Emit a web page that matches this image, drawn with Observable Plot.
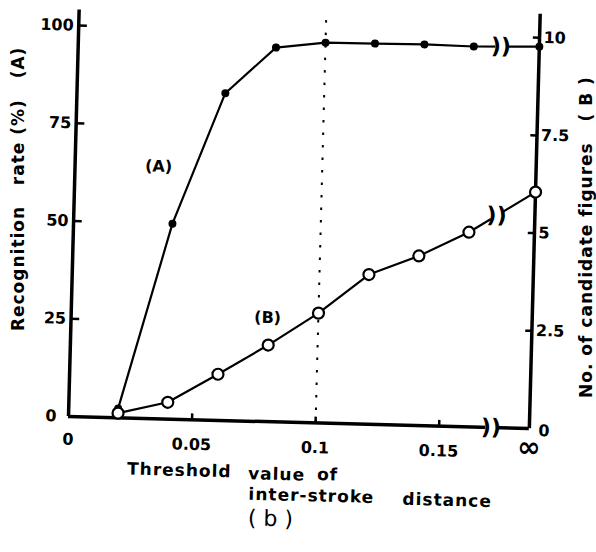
<!DOCTYPE html>
<html>
<head>
<meta charset="utf-8">
<script src="https://cdn.jsdelivr.net/npm/d3@7"></script>
<script src="https://cdn.jsdelivr.net/npm/@observablehq/plot@0.6"></script>
<style>
  html, body { margin: 0; padding: 0; background: #fff; }
  #chart svg { display: block; transform: rotate(1.5deg); transform-origin: 68px 416px; }
</style>
</head>
<body>
<div id="chart"></div>
<script>
// Threshold value of inter-stroke distance (last = ∞)
const thresholds = [0.02, 0.04, 0.06, 0.08, 0.10, 0.12, 0.14, 0.16, Infinity];
// (A) Recognition rate (%)
const rateA = [2.4, 50.0, 83.7, 95.7, 97.3, 97.4, 97.5, 97.3, 97.7];
// (B) No. of candidate figures
const candidatesB = [0.12, 0.43, 1.18, 1.96, 2.81, 3.83, 4.34, 4.98, 6.05];

const xTicks = [0.05, 0.1, 0.15];
const xTickLabels = ["0.05", "0.1", "0.15"];
const leftTicks = [25, 50, 75, 100];
const leftTickLabels = ["25", "50", "75", "100"];
const rightTicks = [2.5, 5, 7.5, 10];
const rightTickLabels = ["2.5", "5", "7.5", "10"];

const titleY = "Recognition\u00a0\u00a0\u00a0rate\u00a0(%)\u00a0\u00a0\u00a0(A)";
const titleY2 = "No.\u00a0of\u00a0candidate\u00a0figures\u00a0\u00a0\u00a0(\u00a0B\u00a0)";

const INF_X = 0.1865;   // where ∞ sits on the broken axis
const BREAK_X = 0.171;  // axis / line break position
const B_SCALE = 10;     // right axis 0–10 drawn on the 0–100 scale

const posX = t => (t === Infinity ? INF_X : t);
const data = thresholds.map((t, i) => ({x: posX(t), a: rateA[i], b: candidatesB[i]}));

// break positions interpolated on each line at BREAK_X
const interp = (key) => {
  const p = data[data.length - 2], q = data[data.length - 1];
  return p[key] + (q[key] - p[key]) * (BREAK_X - p.x) / (q.x - p.x);
};
const breaks = [
  {x: BREAK_X, y: interp("a")},
  {x: BREAK_X, y: interp("b") * B_SCALE},
  {x: BREAK_X, y: 0}
];

const font = "'DejaVu Sans', sans-serif";
const AX = 3.5;
const T = {fontSize: 17, fontWeight: "bold", textAnchor: "middle", lineAnchor: "middle"};

const chart = Plot.plot({
  width: 596,
  height: 552,
  marginLeft: 68,
  marginRight: 67,
  marginTop: 1.5,
  marginBottom: 136,
  x: {domain: [0, INF_X], axis: null},
  y: {domain: [0, 106], axis: null},
  style: {fontFamily: font, background: "white", color: "black"},
  marks: [
    // dotted guide at 0.1
    Plot.ruleX([0.1], {y1: 0, y2: 104, stroke: "black", strokeWidth: 2, strokeDasharray: "2.5,10"}),
    // axes
    Plot.ruleX([0], {y1: 0, y2: 104, stroke: "black", strokeWidth: AX}),
    Plot.ruleX([INF_X], {y1: 0, y2: 106, stroke: "black", strokeWidth: AX}),
    Plot.ruleY([0], {x1: 0, x2: INF_X, stroke: "black", strokeWidth: AX}),
    // ticks (inward)
    Plot.ruleY(leftTicks, {y: d => d, x1: 0, x2: 0.0035, stroke: "black", strokeWidth: 2.5}),
    Plot.ruleY(rightTicks, {y: d => d * B_SCALE, x1: INF_X - 0.0025, x2: INF_X, stroke: "black", strokeWidth: 2.5}),
    Plot.ruleX(xTicks, {x: d => d, y1: 0, y2: 1.5, stroke: "black", strokeWidth: 2.5}),
    // data lines
    Plot.line(data, {x: "x", y: "a", stroke: "black", strokeWidth: 2.2}),
    Plot.line(data, {x: "x", y: d => d.b * B_SCALE, stroke: "black", strokeWidth: 2.2}),
    // breaks
    Plot.dot(breaks, {x: "x", y: "y", symbol: "square", r: 6.5, fill: "white", stroke: "none"}),
    Plot.text(breaks, {x: "x", y: "y", text: () => "))", fontSize: 22, fontWeight: "bold", fill: "black", fontFamily: font}),
    // points
    Plot.dot(data, {x: "x", y: "a", r: 4, fill: "black", stroke: "none"}),
    Plot.dot(data, {x: "x", y: d => d.b * B_SCALE, r: 5.5, fill: "white", stroke: "black", strokeWidth: 2.2}),
    // tick labels
    Plot.text(leftTickLabels, {x: 0, y: (d, i) => leftTicks[i], text: d => d, dx: -5, textAnchor: "end", fontSize: 16, fontWeight: "bold"}),
    Plot.text(["0"], {x: 0, y: 0, text: d => d, dx: -12, textAnchor: "end", fontSize: 16, fontWeight: "bold"}),
    Plot.text(rightTickLabels, {x: INF_X, y: (d, i) => rightTicks[i] * B_SCALE, text: d => d, dx: 4, textAnchor: "start", fontSize: 16, fontWeight: "bold"}),
    Plot.text(["0"], {x: INF_X, y: 0, text: d => d, dx: 9, dy: 2, textAnchor: "start", fontSize: 16, fontWeight: "bold"}),
    Plot.text(xTickLabels, {x: (d, i) => xTicks[i], y: 0, text: d => d, dy: 25, fontSize: 16, fontWeight: "bold"}),
    Plot.text(["0"], {x: 0, y: 0, text: d => d, dy: 23, fontSize: 16, fontWeight: "bold"}),
    Plot.text(["∞"], {x: INF_X, y: 0, text: d => d, dy: 19, fontSize: 28, fontWeight: "bold"}),
    // series labels
    Plot.text(["(A)"], {x: 0.0338, y: 64.5, text: d => d, fontSize: 16, fontWeight: "bold"}),
    Plot.text(["(B)"], {x: 0.0795, y: 26.6, text: d => d, fontSize: 16, fontWeight: "bold"}),
    // axis titles
    Plot.text([titleY], {...T, frameAnchor: "left", text: d => d, rotate: -91.5, dx: -55.4, dy: -19}),
    Plot.text([titleY2], {...T, frameAnchor: "right", text: d => d, rotate: -91.5, dx: 52, dy: 14.3}),
    Plot.text(["Threshold"], {...T, frameAnchor: "bottom-left", text: d => d, textAnchor: "start", dx: 60, dy: 51}),
    Plot.text(["value"], {...T, frameAnchor: "bottom-left", text: d => d, textAnchor: "start", dx: 181, dy: 52.5}),
    Plot.text(["of"], {...T, frameAnchor: "bottom-left", text: d => d, textAnchor: "start", dx: 250, dy: 51.5}),
    Plot.text(["inter-stroke"], {...T, frameAnchor: "bottom-left", text: d => d, textAnchor: "start", dx: 182, dy: 73}),
    Plot.text(["distance"], {...T, frameAnchor: "bottom-left", text: d => d, textAnchor: "start", dx: 336, dy: 74}),
    Plot.text(["(\u00a0b\u00a0)"], {...T, frameAnchor: "bottom-left", text: d => d, fontWeight: "normal", fontSize: 22, dx: 204.5, dy: 97})
  ]
});
// wider lettering of the typeset titles
const spaced = new Set([titleY, titleY2, "Threshold", "value", "of", "inter-stroke", "distance"]);
d3.select(chart).selectAll("text").filter(function () { return spaced.has(this.textContent); })
  .attr("letter-spacing", 1);
document.getElementById("chart").appendChild(chart);
</script>
</body>
</html>
